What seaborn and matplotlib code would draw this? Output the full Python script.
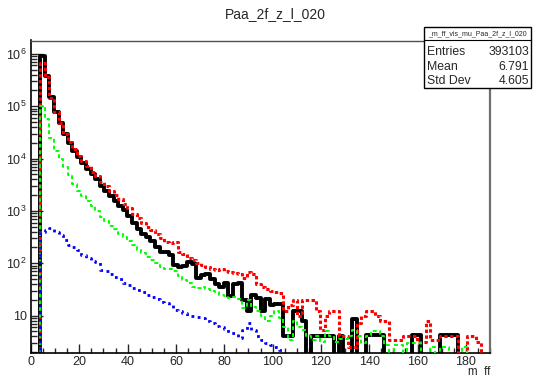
import numpy as np
import pandas as pd
import matplotlib
matplotlib.use("Agg")
import matplotlib.pyplot as plt
import seaborn as sns
from matplotlib.ticker import MultipleLocator, FixedLocator, LogLocator, NullFormatter

# ---------------- data ----------------
x_min, x_max, n_bins = 0.0, 190.0, 100

black_counts = [
    0, 0, 930000, 380000, 148000, 79000, 48000, 29500, 20000, 14100,
    10500, 8300, 6300, 5000, 4000, 3000, 2400, 1900, 1580, 1260,
    1050, 800, 600, 450, 360, 316, 263, 200, 162, 166,
    141, 91, 83, 89, 105, 95, 52, 60, 63, 50,
    40, 35, 42, 24, 40, 42, 20, 12, 25, 22,
    12.5, 21, 16, 17, 17, 4, 4, 12, 12, 8,
    0, 4, 4, 4, 4, 4, 0, 4, 0, 0,
    8.5, 0, 0, 4.2, 4.2, 4.2, 4.2, 0, 0, 0,
    0, 0, 0, 4.2, 4.2, 0, 0, 0, 0, 4.2,
    4.2, 4.2, 4.2, 0, 0, 0, 0, 0, 0, 0,
]
red_counts = [
    0, 0, 680000, 355000, 141000, 79000, 48000, 30000, 21000, 15000,
    11200, 8900, 7100, 5600, 4600, 3600, 2950, 2400, 2000, 1660,
    1350, 1120, 890, 720, 600, 500, 430, 355, 300, 250,
    240, 250, 166, 151, 126, 115, 100, 91, 85, 79,
    74, 76, 71, 68, 66, 63, 52, 68, 63, 40,
    35, 32, 30, 28, 27, 12.5, 16, 20, 10, 20,
    20, 20, 12.5, 5.2, 10, 12, 12, 4, 4, 2.5,
    2.5, 7.2, 10, 12, 12, 10, 8, 8, 3.4, 3.4,
    3.4, 4, 4, 4, 3.2, 3.2, 8, 3.4, 3.4, 4,
    4, 4, 4, 0, 0, 4, 4, 3.2, 0, 0,
]
green_counts = [
    0, 0, 100000, 56000, 25000, 14000, 10000, 7000, 4800, 3300,
    2400, 1900, 1580, 1260, 1000, 760, 630, 525, 450, 370,
    316, 263, 224, 182, 158, 132, 115, 100, 85, 79,
    76, 72, 56, 48, 42, 35, 33, 35, 32, 30,
    28, 25, 24, 22, 23, 21, 14, 20, 14.5, 12.5,
    10, 8, 10, 12.5, 9, 6, 3.4, 8, 6, 5.2,
    4, 3.4, 4, 3.2, 5, 4, 3.2, 3.5, 3.5, 4,
    5.2, 4, 3, 4, 5, 5, 4, 2.8, 0, 2.8,
    2.8, 0, 3, 3, 3, 0, 0, 2.5, 0, 2.5,
    2.5, 0, 0, 0, 2.5, 0, 0, 0, 0, 0,
]
blue_counts = [
    0, 0, 400, 430, 470, 400, 340, 275, 224, 204,
    178, 141, 126, 112, 105, 74, 71, 63, 54, 50,
    42, 38, 33, 31, 28, 25, 23, 21, 18, 17.4,
    16, 13, 12, 11, 10, 10, 9.3, 9, 8, 7.2,
    6.3, 6, 5.5, 4.7, 4.7, 3.7, 5.2, 7.2, 5.2, 4,
    3.4, 3, 2.8, 2.5, 2.2, 0, 0, 0, 0, 0,
    0, 0, 0, 0, 0, 0, 0, 0, 0, 0,
    0, 0, 0, 0, 0, 0, 0, 0, 0, 0,
    0, 0, 0, 0, 0, 0, 0, 0, 0, 0,
    0, 0, 0, 0, 0, 0, 0, 0, 0, 0,
]

title_text = "Paa_2f_z_l_020"
stats_name = "_m_ff_vis_mu_Paa_2f_z_l_020"
stats_rows = [("Entries", "393103"), ("Mean", "6.791"), ("Std Dev", "4.605")]
x_label = "m  ff"
x_ticks = [0, 20, 40, 60, 80, 100, 120, 140, 160, 180]
y_ticks = [10, 100, 1e3, 1e4, 1e5, 1e6]
y_ticklabels = ["10", r"$10^{2}$", r"$10^{3}$", r"$10^{4}$", r"$10^{5}$", r"$10^{6}$"]

# ---------------- figure ----------------
sns.set_style("ticks")
plt.rcParams["font.family"] = ["Liberation Sans", "DejaVu Sans"]
plt.rcParams["mathtext.fontset"] = "custom"
plt.rcParams["mathtext.rm"] = "Liberation Sans"
plt.rcParams["mathtext.it"] = "Liberation Sans"

W, H = 533, 378
fig = plt.figure(figsize=(W / 100, H / 100), dpi=100)
ax = fig.add_axes([31 / W, 1 - 353 / H, (490 - 31) / W, (353 - 40.5) / H])

edges = [float(e) for e in np.linspace(x_min, x_max, n_bins + 1)]
centers = [0.5 * (edges[i] + edges[i + 1]) for i in range(n_bins)]
df = pd.DataFrame({
    "x": centers,
    "black": black_counts,
    "red": red_counts,
    "green": green_counts,
    "blue": blue_counts,
})

styles = [
    ("black", "#000000", 2.8, "-"),
    ("red", "#ff0000", 2.2, (0, (1.1, 0.8))),
    ("green", "#00ff00", 1.4, (0, (2.0, 1.5))),
    ("blue", "#0000ff", 2.0, (0, (1.0, 1.6))),
]
for col, color, lw, ls in styles:
    sns.histplot(data=df, x="x", weights=col, bins=edges, element="step",
                 fill=False, color=color, linewidth=lw, linestyle=ls, ax=ax,
                 zorder=3)

ax.set_yscale("log", nonpositive="clip")
ax.set_xlim(x_min, x_max)
ax.set_ylim(1.93, 1.8e6)

ax.xaxis.set_major_locator(FixedLocator(x_ticks))
ax.xaxis.set_minor_locator(MultipleLocator(5))
ax.set_xticklabels([str(t) for t in x_ticks])
ax.yaxis.set_major_locator(FixedLocator(y_ticks))
ax.set_yticklabels(y_ticklabels)
ax.yaxis.set_minor_locator(LogLocator(base=10, subs=np.arange(2, 10)))
ax.yaxis.set_minor_formatter(NullFormatter())

ax.tick_params(axis="x", which="major", direction="in", length=6.5, width=1.0,
               labelsize=9, pad=2.0, top=False)
ax.tick_params(axis="x", which="minor", direction="in", length=3.6, width=1.0, top=False)
ax.tick_params(axis="y", which="major", direction="in", length=8.5, width=1.0,
               labelsize=9, pad=3, right=False)
ax.tick_params(axis="y", which="minor", direction="in", length=4.3, width=1.0, right=False)

ax.set_xlabel("")
ax.set_ylabel("")
for s in ["left", "bottom"]:
    ax.spines[s].set_color("black")
    ax.spines[s].set_linewidth(1.2)
ax.spines["top"].set_color("#505050")
ax.spines["top"].set_linewidth(1.0)
ax.spines["right"].set_color("#6e6e6e")
ax.spines["right"].set_linewidth(1.6)

fig.text(490 / W, 1 - 372 / H, x_label, ha="right", va="center", fontsize=8.3)
fig.text(275 / W, 1 - 14 / H, title_text, ha="center", va="center", fontsize=10)

# stats box
bx0, bx1, by0, by1 = 424, 531, 27, 88
fig.patches.append(plt.Rectangle((bx0 / W, 1 - by1 / H), (bx1 - bx0) / W, (by1 - by0) / H,
                                 transform=fig.transFigure, facecolor="white",
                                 edgecolor="black", linewidth=1.0, zorder=10))
fig.lines.append(plt.Line2D([bx0 / W, bx1 / W], [1 - 40 / H, 1 - 40 / H],
                            transform=fig.transFigure, color="black", linewidth=0.8, zorder=11))
fig.text((bx0 + bx1) / 2 / W, 1 - 33.5 / H, stats_name, ha="center", va="center",
         fontsize=5.0, zorder=12)
for k, (lab, val) in enumerate(stats_rows):
    yy = 1 - (52 + 14.5 * k) / H
    fig.text(427 / W, yy, lab, ha="left", va="center", fontsize=8.8, zorder=12)
    fig.text(529 / W, yy, val, ha="right", va="center", fontsize=8.8, zorder=12)

fig.savefig("out.png", dpi=100)
